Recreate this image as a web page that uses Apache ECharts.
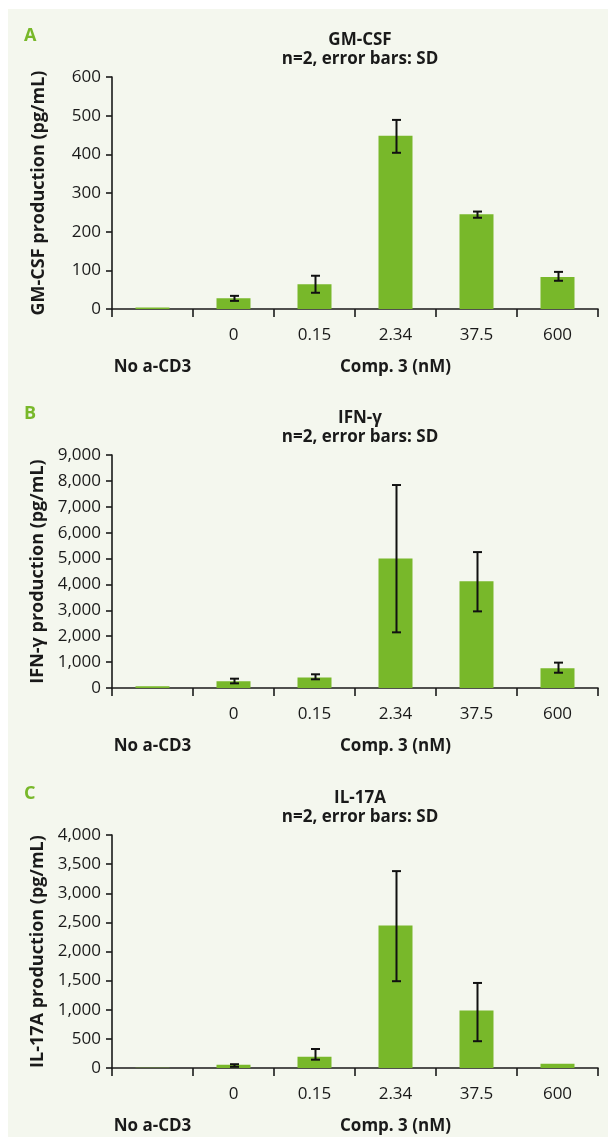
<!DOCTYPE html>
<html>
<head>
<meta charset="utf-8">
<script src="https://cdn.jsdelivr.net/npm/echarts@6/dist/echarts.min.js"></script>
<style>
html,body{margin:0;padding:0;background:#fff;}
#c{width:608px;height:1137px;}
</style>
</head>
<body>
<div id="c"></div>
<script>
// ---- data ----
const tickLabels = ['', '0', '0.15', '2.34', '37.5', '600'];
const groupLabels = ['No a-CD3', 'Comp. 3 (nM)'];
const panelLetters = ['A', 'B', 'C'];
const panelTitles = ['GM-CSF', 'IFN-γ', 'IL-17A'];
const panelSub = 'n=2, error bars: SD';
const yNames = ['GM-CSF production (pg/mL)', 'IFN-γ production (pg/mL)', 'IL-17A production (pg/mL)'];
const yMax = [600, 9000, 4000];
const yStep = [100, 1000, 500];

const gmcsfMean = [4, 28, 64, 448, 245, 83];
const gmcsfLow  = [4, 21, 42, 404, 236, 73];
const gmcsfHigh = [4, 34, 86, 489, 252, 96];

const ifngMean = [65, 260, 410, 5000, 4120, 760];
const ifngLow  = [65, 180, 336, 2150, 2960, 590];
const ifngHigh = [65, 360, 529, 7840, 5250, 980];

const il17Mean = [3, 55, 194, 2445, 985, 75];
const il17Low  = [3, 20, 143, 1490, 460, 75];
const il17High = [3, 65, 326, 3380, 1460, 75];

const means = [gmcsfMean, ifngMean, il17Mean];
const lows = [gmcsfLow, ifngLow, il17Low];
const highs = [gmcsfHigh, ifngHigh, il17High];

// ---- layout ----
const FONT = '"Open Sans", sans-serif';
const GREEN = '#78b82a';
const INK = '#1a1a1a';
const panelTop = [77, 455, 835];
const plotH = [232, 233, 233];
const gridLeft = 112, gridRight = 10;
const plotCenterX = gridLeft + (608 - gridLeft - gridRight) / 2;

const chart = echarts.init(document.getElementById('c'), null, {renderer: 'canvas'});

const grids = [], xAxes = [], yAxes = [], series = [], titles = [], graphics = [];

graphics.push({type: 'rect', shape: {x: 8, y: 9, width: 600, height: 1128}, style: {fill: '#f4f7ee'}, z: -10, silent: true});

for (let p = 0; p < 3; p++) {
  grids.push({left: gridLeft, right: gridRight, top: panelTop[p], height: plotH[p], containLabel: false});
  xAxes.push({
    type: 'category', gridIndex: p, data: tickLabels, boundaryGap: true,
    axisLine: {lineStyle: {color: INK, width: 1.6}},
    axisTick: {show: true, length: 8, interval: 0, lineStyle: {color: INK, width: 1.6}},
    axisLabel: {interval: 0, color: INK, fontFamily: FONT, fontSize: 17, margin: 18}
  });
  yAxes.push({
    type: 'value', gridIndex: p, min: 0, max: yMax[p], interval: yStep[p],
    name: yNames[p], nameLocation: 'middle', nameRotate: 90, nameGap: 64,
    nameTextStyle: {color: INK, fontFamily: FONT, fontSize: 18, fontWeight: 'bold'},
    axisLine: {show: true, lineStyle: {color: INK, width: 1.6}},
    axisTick: {show: true, length: 6, lineStyle: {color: INK, width: 1.6}},
    splitLine: {show: false},
    axisLabel: {color: INK, fontFamily: FONT, fontSize: 17, margin: 11,
      formatter: v => v.toLocaleString('en-US')}
  });
  series.push({
    type: 'bar', xAxisIndex: p, yAxisIndex: p, data: means[p], barWidth: 34,
    itemStyle: {color: GREEN}, silent: true, z: 2
  });
  const errData = means[p].map((m, i) => [i, lows[p][i], highs[p][i]]).filter(d => d[2] > d[1]);
  series.push({
    type: 'custom', xAxisIndex: p, yAxisIndex: p, data: errData, z: 5, silent: true,
    renderItem: (params, api) => {
      const i = api.value(0);
      const lo = api.coord([i, api.value(1)]);
      const hi = api.coord([i, api.value(2)]);
      const cx = Math.round(lo[0]) + 0.5;
      const hw = 4.5;
      const st = {stroke: '#111', lineWidth: 2};
      return {type: 'group', children: [
        {type: 'line', shape: {x1: cx, y1: lo[1], x2: cx, y2: hi[1]}, style: st},
        {type: 'line', shape: {x1: cx - hw, y1: lo[1], x2: cx + hw, y2: lo[1]}, style: st},
        {type: 'line', shape: {x1: cx - hw, y1: hi[1], x2: cx + hw, y2: hi[1]}, style: st}
      ]};
    }
  });
  const off = panelTop[p] - 77;
  titles.push({
    text: panelTitles[p], subtext: panelSub, left: plotCenterX, textAlign: 'center', top: 27 + off, itemGap: 2,
    textStyle: {color: INK, fontFamily: FONT, fontSize: 17, fontWeight: 'bold'},
    subtextStyle: {color: INK, fontFamily: FONT, fontSize: 17, fontWeight: 'bold'}
  });
  graphics.push({type: 'text', left: 24, top: 27 + off,
    style: {text: panelLetters[p], fill: GREEN, font: 'bold 18px ' + FONT}});
  const catW = (608 - gridLeft - gridRight) / 6;
  graphics.push({type: 'text', x: gridLeft + catW / 2, y: panelTop[p] + plotH[p] + 58,
    style: {text: groupLabels[0], fill: INK, font: 'bold 17px ' + FONT, textAlign: 'center', textVerticalAlign: 'middle'}});
  graphics.push({type: 'text', x: gridLeft + catW * 3.5, y: panelTop[p] + plotH[p] + 58,
    style: {text: groupLabels[1], fill: INK, font: 'bold 17px ' + FONT, textAlign: 'center', textVerticalAlign: 'middle'}});
}

chart.setOption({
  animation: false,
  backgroundColor: '#ffffff',
  title: titles,
  grid: grids,
  xAxis: xAxes,
  yAxis: yAxes,
  series: series,
  graphic: graphics
});
</script>
</body>
</html>
